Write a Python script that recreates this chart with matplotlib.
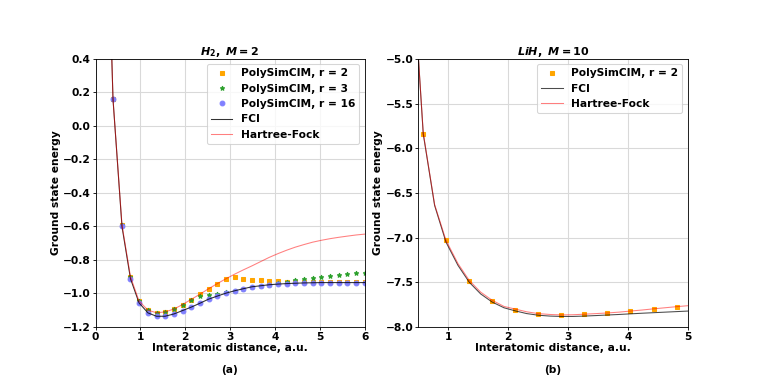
import matplotlib.pyplot as plt

# H2 data
h2_x = [0.39, 0.59, 0.78, 0.97, 1.17, 1.36, 1.55, 1.75, 1.94, 2.13, 2.33, 2.52, 2.71,
        2.91, 3.10, 3.29, 3.49, 3.68, 3.87, 4.07, 4.26, 4.45, 4.65, 4.84, 5.03, 5.23,
        5.42, 5.61, 5.81, 6.00]
h2_r2 = [0.16, -0.59, -0.90, -1.045, -1.10, -1.115, -1.11, -1.093, -1.066, -1.036,
         -1.004, -0.972, -0.942, -0.914, -0.904, -0.914, -0.918, -0.920, -0.924, -0.926,
         -0.929, -0.931, -0.932, -0.933, -0.934, -0.934, -0.934, -0.934, -0.934, -0.934]
h2_r3 = [0.16, -0.59, -0.90, -1.045, -1.10, -1.115, -1.11, -1.093, -1.068, -1.038,
         -1.014, -1.010, -1.002, -0.994, -0.984, -0.972, -0.962, -0.955, -0.948, -0.940,
         -0.932, -0.922, -0.914, -0.908, -0.902, -0.896, -0.890, -0.884, -0.880, -0.878]
h2_r16 = [0.16, -0.60, -0.912, -1.056, -1.116, -1.136, -1.136, -1.122, -1.102, -1.082,
          -1.058, -1.034, -1.016, -0.998, -0.984, -0.972, -0.960, -0.954, -0.948, -0.944,
          -0.941, -0.939, -0.937, -0.936, -0.935, -0.935, -0.935, -0.935, -0.935, -0.935]
h2_line_x = [0.20] + h2_x
h2_fci = [1.9] + h2_r16
h2_hf = [1.9, 0.16, -0.59, -0.90, -1.045, -1.10, -1.115, -1.11, -1.093, -1.066, -1.036,
         -1.004, -0.972, -0.942, -0.912, -0.885, -0.860, -0.835, -0.810, -0.785, -0.762,
         -0.742, -0.724, -0.708, -0.694, -0.683, -0.673, -0.665, -0.658, -0.651, -0.646]

# LiH data
lih_x = [0.58, 0.965, 1.35, 1.735, 2.12, 2.505, 2.89, 3.275, 3.66, 4.045, 4.43, 4.815]
lih_r2 = [-5.836, -7.027, -7.486, -7.706, -7.807, -7.856, -7.867, -7.859, -7.844,
          -7.822, -7.796, -7.774]
lih_line_x = [0.39, 0.58, 0.77, 0.96, 1.16, 1.35, 1.54, 1.73, 1.93, 2.12, 2.31, 2.50,
              2.70, 2.89, 3.08, 3.27, 3.47, 3.66, 3.85, 4.04, 4.24, 4.43, 4.62, 4.81, 5.00]
lih_fci = [-3.85, -5.84, -6.64, -7.05, -7.31, -7.50, -7.63, -7.72, -7.785, -7.82, -7.85,
           -7.868, -7.878, -7.882, -7.882, -7.878, -7.872, -7.866, -7.86, -7.853, -7.846,
           -7.84, -7.834, -7.828, -7.822]
lih_hf = [-3.85, -5.83, -6.63, -7.03, -7.29, -7.48, -7.61, -7.70, -7.77, -7.80, -7.83,
          -7.85, -7.86, -7.865, -7.863, -7.857, -7.85, -7.843, -7.834, -7.822, -7.81,
          -7.797, -7.785, -7.773, -7.762]

plt.rcParams['font.weight'] = 'bold'
plt.rcParams['axes.labelweight'] = 'bold'
plt.rcParams['axes.titleweight'] = 'bold'
plt.rcParams['mathtext.fontset'] = 'custom'
plt.rcParams['mathtext.it'] = 'DejaVu Sans:italic:bold'
plt.rcParams['mathtext.rm'] = 'DejaVu Sans:bold'
plt.rcParams['font.size'] = 10

fig, (ax1, ax2) = plt.subplots(1, 2, figsize=(10, 5), dpi=76.4)
fig.subplots_adjust(left=0.125, right=0.9, top=0.846, bottom=0.144, wspace=0.2)

ax1.plot(h2_x, h2_r2, 's', color='orange', ms=4.5, label='PolySimCIM, r = 2')
ax1.plot(h2_x, h2_r3, '*', color='tab:green', ms=4.5, label='PolySimCIM, r = 3')
ax1.plot(h2_x, h2_r16, 'o', color='#8080ff', ms=4.5, label='PolySimCIM, r = 16')
ax1.plot(h2_line_x, h2_fci, color='black', lw=1, alpha=0.8, label='FCI')
ax1.plot(h2_line_x, h2_hf, color='red', lw=1, alpha=0.5, label='Hartree-Fock')
ax1.set_xlim(0, 6)
ax1.set_ylim(-1.2, 0.4)
ax1.set_title(r'$H_2,\ M = 2$', fontsize=10.5, pad=3)
ax1.set_xlabel('Interatomic distance, a.u.', labelpad=1)
ax1.set_ylabel('Ground state energy', labelpad=2)
ax1.grid(True, color='#d9d9d9', lw=1)
ax1.legend(loc='upper right', numpoints=1, fontsize=10)

ax2.plot(lih_x, lih_r2, 's', color='orange', ms=4.5, label='PolySimCIM, r = 2')
ax2.plot(lih_line_x, lih_fci, color='black', lw=1, alpha=0.7, label='FCI')
ax2.plot(lih_line_x, lih_hf, color='red', lw=1, alpha=0.5, label='Hartree-Fock')
ax2.set_xlim(0.5, 5)
ax2.set_ylim(-8, -5)
ax2.set_title(r'$LiH,\ M = 10$', fontsize=10.5, pad=3)
ax2.set_xlabel('Interatomic distance, a.u.', labelpad=1)
ax2.set_ylabel('Ground state energy', labelpad=2)
ax2.grid(True, color='#d9d9d9', lw=1)
ax2.legend(loc='upper right', numpoints=1, fontsize=10)

for ax in (ax1, ax2):
    ax.tick_params(labelsize=10, length=2.6, pad=2.2)

fig.text(0.300, 0.031, '(a)', ha='center', va='center', fontsize=10)
fig.text(0.723, 0.031, '(b)', ha='center', va='center', fontsize=10)

plt.savefig('out.png', dpi=76.4)
